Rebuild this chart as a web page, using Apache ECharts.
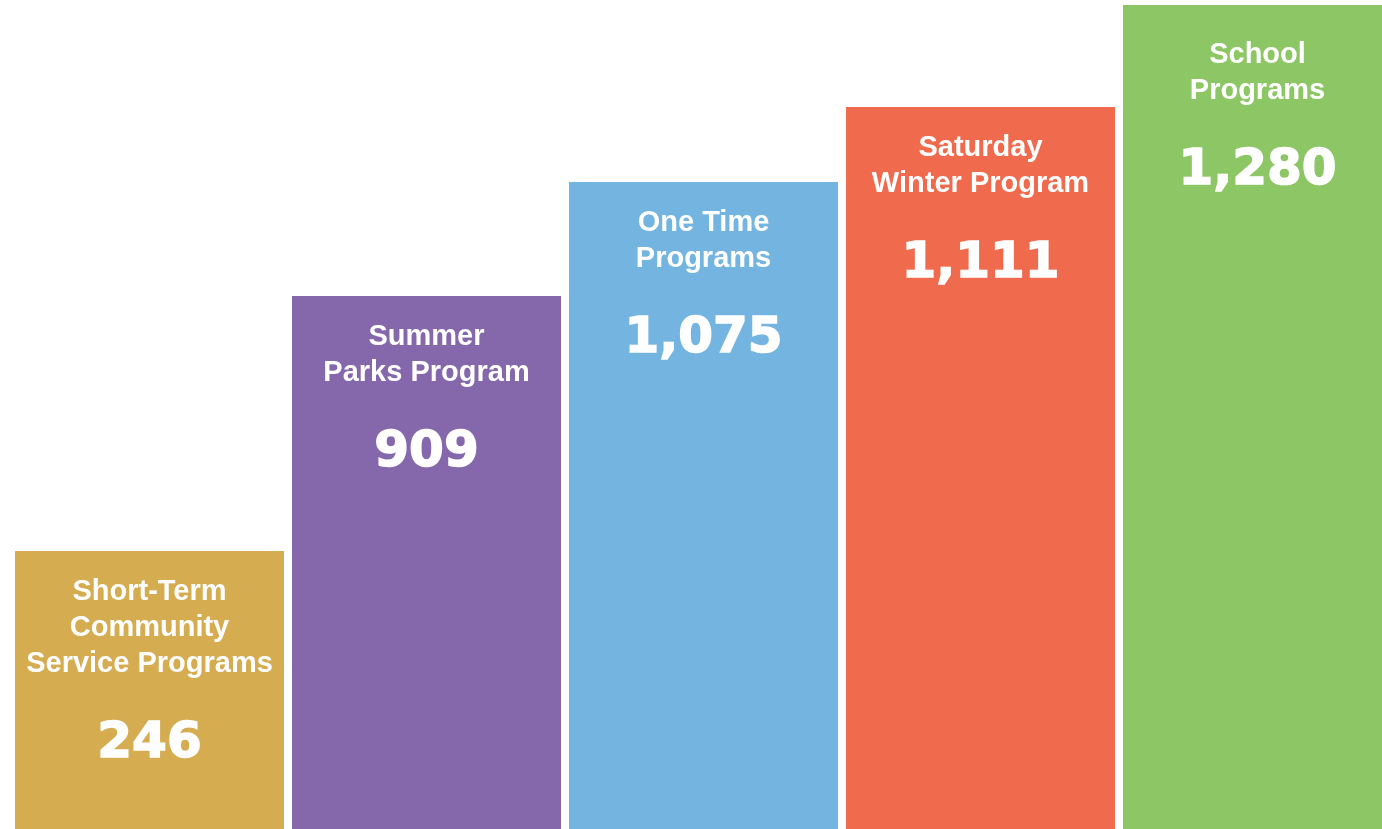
<!DOCTYPE html>
<html>
<head>
<meta charset="utf-8">
<title>Program participants</title>
<script src="https://cdn.jsdelivr.net/npm/echarts@6/dist/echarts.min.js"></script>
<style>
  html, body { margin: 0; padding: 0; background: #fff; }
  #chart { width: 1382px; height: 829px; }
</style>
</head>
<body>
<div id="chart"></div>
<script>
// program names (line breaks as in the picture)
var programs = [
  'Short-Term\nCommunity\nService Programs',
  'Summer\nParks Program',
  'One Time\nPrograms',
  'Saturday\nWinter Program',
  'School\nPrograms'
];
// participant counts printed on the bars
var participants = [246, 909, 1075, 1111, 1280];
// bar heights as drawn in the picture (not proportional to the counts)
var barHeights = [278, 533, 647, 722, 824];
var barColors = ['#D5AC50', '#8567AC', '#73B4E1', '#F06B4E', '#8DC665'];

var chart = echarts.init(document.getElementById('chart'));

chart.setOption({
  animation: false,
  // the last bar runs off the right edge
  grid: {left: 11, width: 1385, top: 5, bottom: 0, outerBoundsMode: 'none', containLabel: false},
  xAxis: {
    type: 'category',
    data: programs,
    show: false
  },
  yAxis: {
    type: 'value',
    min: 0,
    max: 824,
    show: false
  },
  series: [{
    type: 'bar',
    barWidth: 269,
    data: barHeights.map(function (h, i) {
      var item = {value: h, itemStyle: {color: barColors[i]}};
      if (i === barHeights.length - 1) item.label = {distance: 32};
      return item;
    }),
    label: {
      show: true,
      position: 'insideTop',
      distance: 23,
      color: '#fff',
      fontFamily: 'Liberation Sans',
      fontWeight: 'bold',
      formatter: function (p) {
        var lines = programs[p.dataIndex].split('\n').map(function (l) {
          return '{n|' + l + '}';
        });
        lines.push('{v|' + participants[p.dataIndex].toLocaleString('en-US') + '}');
        return lines.join('\n');
      },
      rich: {
        n: {
          fontSize: 29,
          lineHeight: 36,
          fontWeight: 'bold',
          color: '#fff',
          fontFamily: 'Liberation Sans'
        },
        v: {
          fontSize: 50,
          lineHeight: 124,
          fontWeight: 'bold',
          color: '#fff',
          textBorderColor: '#fff',
          textBorderWidth: 1.5,
          fontFamily: 'DejaVu Sans'
        }
      }
    }
  }]
});
</script>
</body>
</html>
